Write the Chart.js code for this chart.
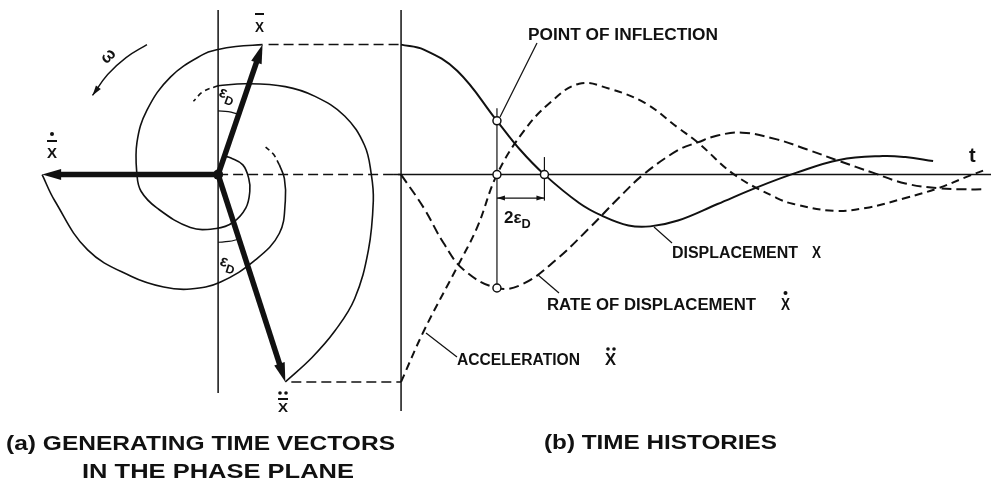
<!DOCTYPE html>
<html>
<head>
<meta charset="utf-8">
<script src="https://cdn.jsdelivr.net/npm/chart.js@4.4.0/dist/chart.umd.min.js"></script>
<style>
  html, body { margin: 0; padding: 0; background: #fff; }
  #wrap { width: 991px; height: 491px; }
</style>
</head>
<body>
<div id="wrap"><canvas id="fig" width="991" height="491"></canvas></div>
<script>
// ---- phase plane (units of initial displacement) ----
const vecTipX = [0.338, -1.338, 0.511];   // x, x-dot, x-ddot
const vecTipY = [1.0, 0.0, -1.594];

const dispSpiralX = [0.338, 0.135, 0, -0.113, -0.361, -0.541, -0.617, -0.617, -0.586, -0.466, -0.211, -0.015, 0.113, 0.211, 0.241, 0.233, 0.188, 0.098, 0.045];
const dispSpiralY = [1.0, 0.985, 0.962, 0.925, 0.752, 0.496, 0.248, 0, -0.128, -0.256, -0.406, -0.414, -0.368, -0.256, -0.128, -0.030, 0.075, 0.128, 0.143];

const rateSpiralX = [-1.338, -1.241, -0.992, -0.662, -0.414, -0.211, 0.015, 0.286, 0.466, 0.511, 0.504, 0.466];
const rateSpiralY = [0, -0.203, -0.579, -0.782, -0.865, -0.880, -0.827, -0.654, -0.451, -0.203, -0.030, 0.075];
const rateTailX = [0.466, 0.42, 0.361];
const rateTailY = [0.075, 0.158, 0.211];

const accSpiralX = [0.511, 0.714, 0.887, 1.038, 1.143, 1.180, 1.165, 1.113, 0.962, 0.737, 0.511, 0.211, 0];
const accSpiralY = [-1.594, -1.406, -1.203, -0.955, -0.579, -0.203, 0, 0.226, 0.451, 0.602, 0.677, 0.699, 0.684];
const accTailX = [0, -0.113, -0.188];
const accTailY = [0.684, 0.639, 0.564];

// damping-angle arcs and the rotation arrow
const epsUpperX = [0, 0.077, 0.151];
const epsUpperY = [0.49, 0.484, 0.466];
const epsLowerX = [0, 0.081, 0.161];
const epsLowerY = [-0.52, -0.514, -0.495];
const omegaX = [-0.541, -0.70, -0.84, -0.955];
const omegaY = [1.0, 0.90, 0.77, -0.0 + 0.609];

// ---- time histories (phase angle in degrees) ----
const dispT = [0, 16.9, 41.9, 71.3, 88.2, 106.6, 132.4, 149.3, 169.1, 185.3, 205.9, 235.3, 264.7, 294.1, 325.7, 358.1, 375.0, 395.6];
const dispV = [1.0, 0.962, 0.797, 0.414, 0.195, 0, -0.218, -0.316, -0.391, -0.398, -0.353, -0.226, -0.098, 0.015, 0.113, 0.143, 0.135, 0.105];

const rateT = [0, 16.9, 31.6, 46.3, 71.3, 90.4, 115.4, 139.7, 161.8, 180.1, 205.9, 220.6, 235.3, 253.7, 279.4, 301.5, 325.7, 350.7, 375.0, 399.3, 419.1, 434.6];
const rateV = [0, -0.256, -0.526, -0.729, -0.872, -0.842, -0.654, -0.414, -0.180, 0, 0.188, 0.248, 0.301, 0.323, 0.271, 0.195, 0.105, 0.015, -0.068, -0.105, -0.113, -0.113];

const accT = [0, 16.9, 41.9, 56.6, 71.3, 90.4, 110.3, 132.4, 154.4, 181.6, 205.9, 220.6, 247.8, 279.4, 291.9, 321.3, 345.6, 375.0, 399.3, 419.1, 434.6];
const accV = [-1.594, -1.203, -0.707, -0.406, 0, 0.323, 0.549, 0.699, 0.662, 0.549, 0.361, 0.248, 0, -0.180, -0.226, -0.278, -0.256, -0.180, -0.105, -0.023, 0.038];

// inflection of x, zero of x-ddot, zero of x, minimum of x-dot
const markT = [71.3, 71.3, 106.6, 71.3];
const markV = [0.414, 0, 0, -0.872];

const INK = '#111';
const AMP_PX = 133, ZERO_Y = 173;     // vertical scale shared by both panels
const CENTRE_X = 215, T0_X = 400, DEG_PX = 1.36;
const W = 991, H = 491;

const pts = (xs, ys) => xs.map((x, i) => ({ x: x, y: ys[i] }));

function curve(xs, ys, axis, width, dash) {
  return {
    data: pts(xs, ys),
    xAxisID: axis, yAxisID: 'amp',
    showLine: true, fill: false,
    borderColor: INK, borderWidth: width,
    borderDash: dash || [],
    pointRadius: 0, tension: 0.4, order: 1
  };
}

function line(ctx, x1, y1, x2, y2) {
  ctx.beginPath(); ctx.moveTo(x1, y1); ctx.lineTo(x2, y2); ctx.stroke();
}

function arrowHead(ctx, tx, ty, fx, fy, len, half) {
  const a = Math.atan2(ty - fy, tx - fx);
  const bx = tx - len * Math.cos(a), by = ty - len * Math.sin(a);
  ctx.beginPath();
  ctx.moveTo(tx, ty);
  ctx.lineTo(bx + half * Math.sin(a), by - half * Math.cos(a));
  ctx.lineTo(bx - half * Math.sin(a), by + half * Math.cos(a));
  ctx.closePath();
  ctx.fill();
}

const font = size => `bold ${size}px "Liberation Sans", "DejaVu Sans", sans-serif`;

// stretch or squeeze a string to a given width
function fitText(ctx, s, x, y, w, size) {
  ctx.font = font(size);
  const m = ctx.measureText(s).width;
  ctx.save();
  ctx.translate(x, y);
  ctx.scale(w / m, 1);
  ctx.fillText(s, 0, 0);
  ctx.restore();
}

const textMarks = [
  { s: 'POINT OF INFLECTION', x: 528, y: 40, w: 190, size: 16 },
  { s: 'DISPLACEMENT', x: 672, y: 258, w: 126, size: 16 },
  { s: 'X', x: 812, y: 258, w: 9, size: 16 },
  { s: 'RATE OF DISPLACEMENT', x: 547, y: 310, w: 209, size: 16 },
  { s: 'X', x: 781, y: 310, w: 9, size: 16 },
  { s: 'ACCELERATION', x: 457, y: 365, w: 123, size: 16 },
  { s: 'X', x: 605, y: 365, w: 11, size: 16 },
  { s: '(a) GENERATING TIME VECTORS', x: 6, y: 450, w: 389, size: 20 },
  { s: 'IN THE PHASE PLANE', x: 82, y: 478, w: 272, size: 20 },
  { s: '(b) TIME HISTORIES', x: 544, y: 449, w: 233, size: 20 }
];

const leaders = [
  [500, 117, 537, 43],
  [654, 227, 672, 243],
  [538, 275, 559, 293],
  [426, 333, 457, 357]
];

const figurePlugin = {
  id: 'figure',
  beforeDatasetsDraw(chart) {
    const { ctx } = chart;
    const { ph, tm, amp } = chart.scales;
    const cx = ph.getPixelForValue(0), cy = amp.getPixelForValue(0);
    const t0 = tm.getPixelForValue(0);
    ctx.save();
    ctx.strokeStyle = INK;
    ctx.lineWidth = 1.5;
    line(ctx, cx, 10, cx, 393);
    line(ctx, t0, 10, t0, 411);
    line(ctx, t0 - 8, cy, W, cy);

    ctx.setLineDash([10, 5]);
    line(ctx, cx, cy, t0, cy);
    [0, 2].forEach(i => {
      const y = amp.getPixelForValue(vecTipY[i]);
      line(ctx, ph.getPixelForValue(vecTipX[i]) + 6, y, t0, y);
    });
    ctx.setLineDash([]);

    // inflection construction and the 2 eps_D dimension
    ctx.lineWidth = 1.2;
    const ti = tm.getPixelForValue(markT[0]);
    const tz = tm.getPixelForValue(markT[2]);
    line(ctx, ti, amp.getPixelForValue(0.51), ti, amp.getPixelForValue(markV[3]));
    line(ctx, tz, amp.getPixelForValue(0.135), tz, amp.getPixelForValue(-0.2));
    const dy = amp.getPixelForValue(-0.18);
    line(ctx, ti, dy, tz, dy);
    ctx.fillStyle = INK;
    arrowHead(ctx, ti, dy, tz, dy, 8, 2.5);
    arrowHead(ctx, tz, dy, ti, dy, 8, 2.5);
    ctx.restore();
  },
  afterDatasetsDraw(chart) {
    const { ctx } = chart;
    const { ph, amp } = chart.scales;
    const cx = ph.getPixelForValue(0), cy = amp.getPixelForValue(0);
    ctx.save();
    ctx.fillStyle = INK;
    ctx.strokeStyle = INK;

    // generating vectors
    vecTipX.forEach((vx, i) => {
      const tx = ph.getPixelForValue(vx), ty = amp.getPixelForValue(vecTipY[i]);
      const a = Math.atan2(ty - cy, tx - cx);
      ctx.lineWidth = 5.5;
      line(ctx, cx, cy, tx - 12 * Math.cos(a), ty - 12 * Math.sin(a));
      arrowHead(ctx, tx, ty, cx, cy, 19, 5.5);
    });
    ctx.beginPath();
    ctx.arc(cx, cy, 5, 0, Math.PI * 2);
    ctx.fill();

    // rotation arrow
    const n = omegaX.length;
    arrowHead(ctx, ph.getPixelForValue(omegaX[n - 1]), amp.getPixelForValue(omegaY[n - 1]),
      ph.getPixelForValue(omegaX[n - 2]), amp.getPixelForValue(omegaY[n - 2]), 10, 3);

    // leader lines
    ctx.lineWidth = 1.2;
    leaders.forEach(l => line(ctx, l[0], l[1], l[2], l[3]));

    // text
    ctx.textBaseline = 'alphabetic';
    textMarks.forEach(t => fitText(ctx, t.s, t.x, t.y, t.w, t.size));

    // dots and bars over the X symbols
    const dot = (x, y, r) => { ctx.beginPath(); ctx.arc(x, y, r, 0, Math.PI * 2); ctx.fill(); };
    dot(785.5, 293, 2);
    dot(608, 349, 1.8); dot(614, 349, 1.8);

    fitText(ctx, 'X', 255, 32, 9, 15);
    ctx.lineWidth = 2;
    line(ctx, 255, 14, 264, 14);
    fitText(ctx, 'X', 47, 158, 10, 15);
    line(ctx, 47, 141, 57, 141);
    dot(52, 134, 2);
    fitText(ctx, 'X', 278, 412, 10, 13);
    line(ctx, 278, 399, 288, 399);
    dot(280, 393, 1.8); dot(286, 393, 1.8);

    // greek labels
    const greek = (x, y, rot, main, sub, size) => {
      ctx.save();
      ctx.translate(x, y);
      ctx.rotate(rot);
      ctx.font = font(size);
      ctx.fillText(main, 0, 0);
      const w = ctx.measureText(main).width;
      if (sub) { ctx.font = font(size * 0.75); ctx.fillText(sub, w, 5); }
      ctx.restore();
    };
    greek(218, 96, 0.35, '\u03b5', 'D', 16);
    greek(219, 265, 0.3, '\u03b5', 'D', 16);
    greek(504, 223, 0, '2\u03b5', 'D', 17);
    ctx.save();
    ctx.translate(108, 56);
    ctx.rotate(-0.75);
    ctx.font = font(17);
    ctx.textAlign = 'center';
    ctx.fillText('\u03c9', 0, 5);
    ctx.restore();
    ctx.font = font(20);
    ctx.fillText('t', 969, 162);
    ctx.restore();
  }
};

new Chart(document.getElementById('fig'), {
  type: 'scatter',
  data: {
    datasets: [
      {
        data: pts(markT, markV), xAxisID: 'tm', yAxisID: 'amp',
        pointRadius: 4, pointBackgroundColor: '#fff', pointBorderColor: INK,
        pointBorderWidth: 1.5, showLine: false, order: 0
      },
      curve(dispT, dispV, 'tm', 2),
      curve(rateT, rateV, 'tm', 2, [10, 5]),
      curve(accT, accV, 'tm', 2, [8, 5]),
      curve(dispSpiralX, dispSpiralY, 'ph', 1.6),
      curve(rateSpiralX, rateSpiralY, 'ph', 1.6),
      curve(rateTailX, rateTailY, 'ph', 1.6, [5, 4]),
      curve(accSpiralX, accSpiralY, 'ph', 1.6),
      curve(accTailX, accTailY, 'ph', 1.6, [5, 4]),
      curve(epsUpperX, epsUpperY, 'ph', 1.2),
      curve(epsLowerX, epsLowerY, 'ph', 1.2),
      curve(omegaX, omegaY, 'ph', 1.4)
    ]
  },
  options: {
    responsive: false,
    animation: false,
    layout: { padding: 0 },
    plugins: { legend: { display: false }, tooltip: { enabled: false }, title: { display: false } },
    scales: {
      ph: { type: 'linear', axis: 'x', display: false, min: -CENTRE_X / AMP_PX, max: (W - CENTRE_X) / AMP_PX },
      tm: { type: 'linear', axis: 'x', display: false, min: -T0_X / DEG_PX, max: (W - T0_X) / DEG_PX },
      amp: { type: 'linear', axis: 'y', display: false, min: -(H - ZERO_Y) / AMP_PX, max: ZERO_Y / AMP_PX }
    }
  },
  plugins: [figurePlugin]
});
</script>
</body>
</html>
